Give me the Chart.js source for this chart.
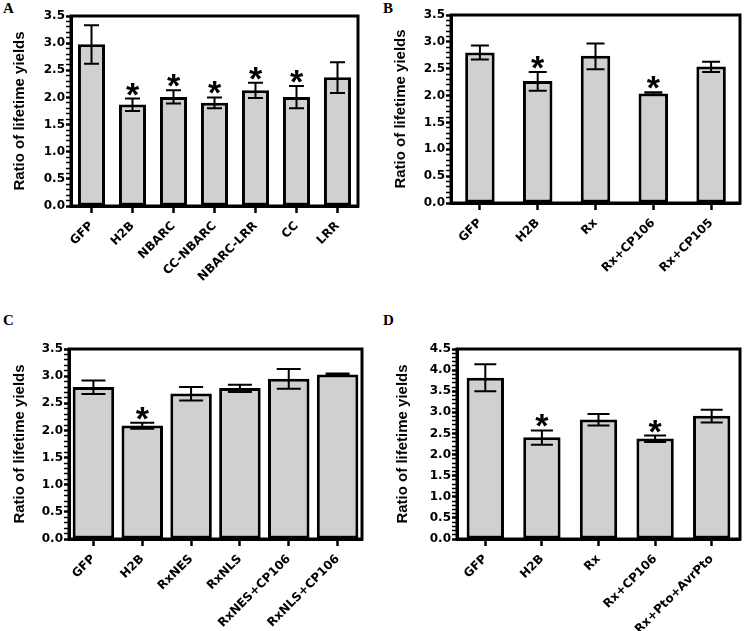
<!DOCTYPE html>
<html>
<head>
  <meta charset="UTF-8" />
  <title>Ratio of lifetime yields</title>
  <script src="https://cdn.jsdelivr.net/npm/chart.js"></script>
  <style>
    body {
      margin: 0;
      background: #fff;
      width: 745px;
      height: 631px;
      position: relative;
      overflow: hidden;
    }
    canvas {
      position: absolute;
    }
    .letter {
      position: absolute;
      font-family: 'Liberation Serif', 'Times New Roman', serif;
      font-weight: bold;
      font-size: 15px;
      line-height: 15px;
    }
  </style>
</head>
<body>
  <div class="letter" style="left:3px; top:1px;">A</div>
  <div class="letter" style="left:383px; top:1px;">B</div>
  <div class="letter" style="left:3px; top:313px;">C</div>
  <div class="letter" style="left:383px; top:313px;">D</div>

  <canvas id="chartA" width="370" height="310" style="left:0; top:0;"></canvas>
  <canvas id="chartB" width="375" height="310" style="left:370px; top:0;"></canvas>
  <canvas id="chartC" width="370" height="321" style="left:0; top:310px;"></canvas>
  <canvas id="chartD" width="375" height="321" style="left:370px; top:310px;"></canvas>

  <script>
    // panel A
    const labelsA = ['GFP', 'H2B', 'NBARC', 'CC-NBARC', 'NBARC-LRR', 'CC', 'LRR'];
    const meanA = [2.98, 1.87, 2.01, 1.90, 2.13, 2.01, 2.37];
    const hiA = [3.33, 1.98, 2.13, 2.00, 2.27, 2.21, 2.65];
    const loA = [2.62, 1.75, 1.89, 1.80, 1.99, 1.80, 2.08];
    const sigA = [false, true, true, true, true, true, false];

    // panel B
    const labelsB = ['GFP', 'H2B', 'Rx', 'Rx+CP106', 'Rx+CP105'];
    const meanB = [2.80, 2.27, 2.74, 2.04, 2.54];
    const hiB = [2.93, 2.44, 2.97, 2.06, 2.63];
    const loB = [2.67, 2.09, 2.49, 2.02, 2.44];
    const sigB = [false, true, false, true, false];

    // panel C
    const labelsC = ['GFP', 'H2B', 'RxNES', 'RxNLS', 'RxNES+CP106', 'RxNLS+CP106'];
    const meanC = [2.80, 2.09, 2.68, 2.78, 2.95, 3.03];
    const hiC = [2.92, 2.14, 2.80, 2.84, 3.13, 3.05];
    const loC = [2.67, 2.03, 2.55, 2.71, 2.77, 3.01];
    const sigC = [false, true, false, false, false, false];

    // panel D
    const labelsD = ['GFP', 'H2B', 'Rx', 'Rx+CP106', 'Rx+Pto+AvrPto'];
    const meanD = [3.82, 2.41, 2.83, 2.38, 2.92];
    const hiD = [4.14, 2.57, 2.96, 2.45, 3.06];
    const loD = [3.50, 2.23, 2.69, 2.30, 2.76];
    const sigD = [false, true, false, true, false];

    const FONT = "'Liberation Sans', Arial, sans-serif";
    const TICKFONT = "'DejaVu Sans', sans-serif";

    const isHalf = v => Math.abs(v * 2 - Math.round(v * 2)) < 1e-6;

    // error bars, stars and the frame round the plot
    const errorBarPlugin = {
      id: 'errbars',
      afterDatasetsDraw(chart, args, opts) {
        const ctx = chart.ctx;
        const meta = chart.getDatasetMeta(0);
        const y = chart.scales.y;
        ctx.save();
        ctx.strokeStyle = '#000';
        ctx.lineWidth = 2;
        meta.data.forEach((bar, i) => {
          const x = bar.x;
          const yh = y.getPixelForValue(opts.hi[i]);
          const yl = y.getPixelForValue(opts.lo[i]);
          const h = opts.cap / 2;
          ctx.beginPath();
          ctx.moveTo(x, yh); ctx.lineTo(x, yl);
          ctx.moveTo(x - h, yh); ctx.lineTo(x + h, yh);
          ctx.moveTo(x - h, yl); ctx.lineTo(x + h, yl);
          ctx.stroke();
          if (opts.sig[i]) {
            ctx.fillStyle = '#000';
            ctx.font = 'bold 34px ' + FONT;
            ctx.textAlign = 'center';
            ctx.textBaseline = 'alphabetic';
            const m = ctx.measureText('*');
            ctx.fillText('*', x, yh - 3 - m.actualBoundingBoxDescent);
          }
        });
        const a = chart.chartArea;
        ctx.lineWidth = 3;
        ctx.strokeRect(a.left, a.top, a.right - a.left, a.bottom - a.top);
        ctx.restore();
      }
    };

    function makePanel(id, labels, mean, hi, lo, sig, box, yMax, barPct, cap, titlePad) {
      const canvas = document.getElementById(id);
      const W = canvas.width, H = canvas.height;
      return new Chart(canvas, {
        type: 'bar',
        data: {
          labels: labels,
          datasets: [{
            data: mean,
            backgroundColor: '#d0d0d0',
            borderColor: '#000',
            borderWidth: 3,
            borderSkipped: false,
            barPercentage: barPct,
            categoryPercentage: 1
          }]
        },
        options: {
          responsive: false,
          animation: false,
          devicePixelRatio: 1,
          layout: { padding: { top: box.top, right: W - box.right, left: 0, bottom: 0 } },
          plugins: {
            legend: { display: false },
            tooltip: { enabled: false },
            errbars: { hi: hi, lo: lo, sig: sig, cap: cap }
          },
          scales: {
            x: {
              afterFit(scale) { scale.height = H - box.bottom; },
              grid: {
                offset: false,
                drawOnChartArea: false,
                tickLength: 7,
                tickWidth: 2.5,
                tickColor: '#000'
              },
              border: { display: true, color: '#000', width: 3 },
              ticks: {
                color: '#000',
                font: { family: TICKFONT, size: 12, weight: 'bold' },
                minRotation: 45,
                maxRotation: 45,
                autoSkip: false,
                padding: 6,
                labelOffset: 0
              }
            },
            y: {
              min: 0,
              max: yMax,
              afterFit(scale) { scale.width = box.left; },
              // ticks every 0.1, labelled every 0.5
              afterBuildTicks(scale) {
                const t = [];
                for (let i = 0; i <= Math.round(yMax * 10); i++) t.push({ value: i / 10 });
                scale.ticks = t;
              },
              grid: {
                drawOnChartArea: false,
                tickLength: 5,
                tickColor: '#000',
                tickWidth: c => (isHalf(c.tick.value) ? 2.5 : 1.5)
              },
              border: { display: true, color: '#000', width: 3 },
              ticks: {
                autoSkip: false,
                color: '#000',
                padding: 1,
                font: { family: TICKFONT, size: 12, weight: 'bold' },
                callback: v => (isHalf(v) ? v.toFixed(1) : '')
              },
              title: {
                display: true,
                text: 'Ratio of lifetime yields',
                color: '#000',
                font: { family: FONT, size: 15, weight: 'bold' },
                padding: { top: titlePad, bottom: 0 }
              }
            }
          }
        },
        plugins: [errorBarPlugin]
      });
    }

    makePanel('chartA', labelsA, meanA, hiA, loA, sigA,
      { left: 71, right: 358, top: 16, bottom: 206 }, 3.5, 0.66, 15, 11);
    makePanel('chartB', labelsB, meanB, hiB, loB, sigB,
      { left: 81, right: 370, top: 15, bottom: 203 }, 3.5, 0.51, 18, 22);
    makePanel('chartC', labelsC, meanC, hiC, loC, sigC,
      { left: 69, right: 362, top: 39, bottom: 229 }, 3.5, 0.85, 24, 11);
    makePanel('chartD', labelsD, meanD, hiD, loD, sigD,
      { left: 87, right: 370, top: 39, bottom: 229 }, 4.5, 0.66, 22, 24);
  </script>
</body>
</html>
